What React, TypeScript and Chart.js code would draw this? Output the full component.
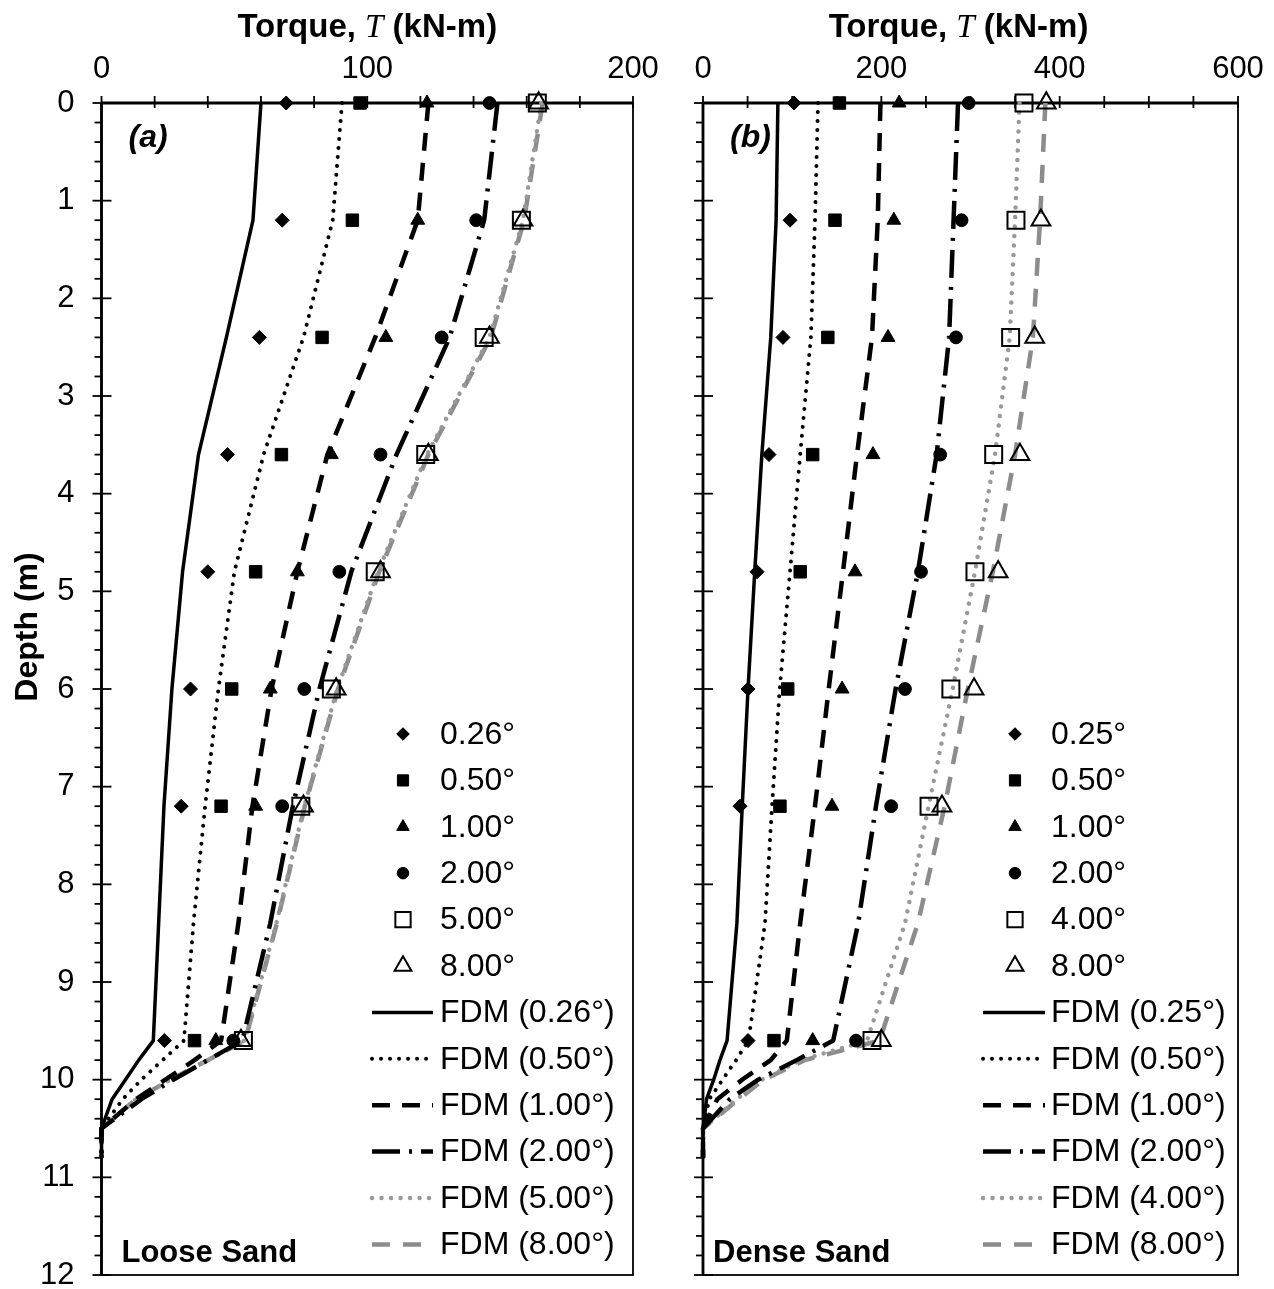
import React, { useEffect, useRef } from 'react';
import { Chart, registerables } from 'chart.js';
import { drawPoint } from 'chart.js/helpers';

Chart.register(...registerables);

const SANS = '"Liberation Sans", Arial, Helvetica, sans-serif';
const SERIF = '"Liberation Serif", "Times New Roman", Times, serif';

// ---------------- data ----------------
const markerDepths = [0, 1.2, 2.4, 3.6, 4.8, 6.0, 7.2, 9.6];
const fdmDepths = [0, 1.2, 2.4, 3.6, 4.8, 6.0, 7.2, 8.4, 9.6, 9.8, 10.0, 10.2, 10.5, 10.8];
const depthTicks = [0, 1, 2, 3, 4, 5, 6, 7, 8, 9, 10, 11, 12];

// (a) Loose sand
const looseAngles = ['0.26°', '0.50°', '1.00°', '2.00°', '5.00°', '8.00°'];
const looseTorqueTicks = [0, 100, 200];
const loose026 = [69.5, 68, 59.4, 47.4, 40, 33.5, 30, 23.7];
const loose050 = [97.3, 94.4, 83, 67.7, 58, 49, 45, 35];
const loose100 = [122.5, 119, 107, 86.5, 73.7, 63.5, 58, 43];
const loose200 = [146, 141, 128, 105, 89.5, 76.3, 68, 49.6];
const loose500 = [164, 158, 144, 122, 103, 86.5, 75, 53.4];
const loose800 = [164.5, 158.6, 146, 123, 105, 88.3, 76, 52.5];
const looseFdm026 = [60, 57, 47, 36.5, 30.5, 26.5, 23.5, 21.5, 19.5, 14, 9, 4, 0, 0];
const looseFdm050 = [90.5, 87, 76, 61, 50, 44, 39, 34.6, 31, 23, 15, 8, 0, 0];
const looseFdm100 = [123, 119, 103, 85, 73.7, 64, 56.8, 51.5, 45, 35, 24, 13, 0, 0];
const looseFdm200 = [149, 144, 131, 111, 94, 82, 72, 63.5, 53, 40, 27, 15, 0, 0];
const looseFdm500 = [165.5, 158.6, 146, 122.5, 104, 88.7, 76.3, 65.8, 53.8, 40, 26, 13, 0, 0];
const looseFdm800 = [166, 159, 146.5, 123, 104.5, 89, 76.5, 66, 54, 40, 26, 13, 0, 0];

// (b) Dense sand
const denseAngles = ['0.25°', '0.50°', '1.00°', '2.00°', '4.00°', '8.00°'];
const denseTorqueTicks = [0, 200, 400, 600];
const dense025 = [102, 97.6, 89.7, 74, 60.6, 50.5, 41.5, 50.5];
const dense050 = [153, 148, 140, 123, 109, 95, 86.3, 79.6];
const dense100 = [220, 214, 207.5, 190.6, 170.5, 156, 144.7, 123];
const dense200 = [298, 290, 283.7, 266, 244.5, 226.5, 211, 171.6];
const dense400 = [360, 351, 345, 326, 305, 278, 253.5, 189.5];
const dense800 = [385, 379, 372, 355.5, 331, 304, 268, 200];
const denseFdm025 = [84, 82, 76, 66, 58, 50.5, 44, 38, 27, 19, 12, 4, 0, 0];
const denseFdm050 = [129, 125.6, 121, 109, 97.6, 86, 77.4, 69.5, 51, 37, 22, 7, 0, 0];
const denseFdm100 = [199, 196, 189.5, 172.7, 157, 141, 125.6, 109, 94, 76, 44, 16, 0, 0];
const denseFdm200 = [286, 281, 276, 262, 241, 216, 194, 174, 146, 105, 62, 30, 0, 0];
const denseFdm400 = [355, 350, 344, 327.5, 305, 280, 253, 226.5, 184, 110, 66, 38, 0, 0];
const denseFdm800 = [384, 378, 370, 350, 325, 297, 271, 241, 198, 114, 68, 40, 0, 0];

// ---------------- styles ----------------
const MARKERS = [
  { style: 'rectRot', r: 7, fill: '#000', bw: 1 },
  { style: 'rect', r: 8.8, fill: '#000', bw: 1 },
  { style: 'triangle', r: 8, fill: '#000', bw: 1 },
  { style: 'circle', r: 6.4, fill: '#000', bw: 1 },
  { style: 'rect', r: 12, fill: 'rgba(0,0,0,0)', bw: 2 },
  { style: 'triangle', r: 10.8, fill: 'rgba(0,0,0,0)', bw: 2 },
];
const LINES = [
  { color: '#000', w: 3.5, dash: [] as number[], cap: 'butt' },
  { color: '#000', w: 4, dash: [0.01, 9], cap: 'round' },
  { color: '#000', w: 4.5, dash: [18, 12], cap: 'butt' },
  { color: '#000', w: 4.5, dash: [28, 9, 3, 9], cap: 'butt' },
  { color: '#999999', w: 4.5, dash: [0.01, 9.5], cap: 'round' },
  { color: '#8c8c8c', w: 4.5, dash: [18, 13], cap: 'butt' },
];

const H = 1289;

function buildDatasets(markers: number[][], fdm: number[][], labels: string[]) {
  const ds: any[] = [];
  markers.forEach((vals, i) => {
    const st = MARKERS[i];
    ds.push({
      label: labels[i],
      data: vals.map((v, k) => ({ x: v, y: markerDepths[k] })),
      showLine: false,
      pointStyle: st.style,
      pointRadius: st.r,
      pointHoverRadius: st.r,
      pointBackgroundColor: st.fill,
      pointBorderColor: '#000',
      pointBorderWidth: st.bw,
      backgroundColor: st.fill,
      borderColor: '#000',
      clip: false,
    });
  });
  fdm.forEach((vals, i) => {
    const st = LINES[i];
    ds.push({
      label: 'FDM (' + labels[i] + ')',
      data: vals.map((v, k) => ({ x: v, y: fdmDepths[k] })),
      showLine: true,
      pointRadius: 0,
      pointHoverRadius: 0,
      borderColor: st.color,
      backgroundColor: st.color,
      borderWidth: st.w,
      borderDash: st.dash,
      borderCapStyle: st.cap,
      borderJoinStyle: 'round',
      fill: false,
      tension: 0,
      clip: false,
    });
  });
  return ds;
}

function seg(ctx: CanvasRenderingContext2D, x1: number, y1: number, x2: number, y2: number) {
  ctx.beginPath();
  ctx.moveTo(x1, y1);
  ctx.lineTo(x2, y2);
  ctx.stroke();
}

const decorPlugin = {
  id: 'decor',
  beforeDatasetsDraw(chart: any, _a: any, o: any) {
    const { ctx, chartArea: ca } = chart;
    const x = chart.scales.x;
    const y = chart.scales.y;
    ctx.save();
    ctx.strokeStyle = '#000';
    ctx.setLineDash([]);
    ctx.lineCap = 'butt';
    ctx.lineWidth = 1.8;
    ctx.strokeRect(ca.left, ca.top, ca.right - ca.left, ca.bottom - ca.top);
    ctx.lineWidth = 2.8;
    seg(ctx, ca.left, ca.top, ca.right, ca.top);
    seg(ctx, ca.left, ca.top, ca.left, ca.bottom);
    ctx.lineWidth = 1.8;
    const nx = Math.round((x.max - x.min) / o.xMinor);
    for (let i = 0; i <= nx; i++) {
      const px = x.getPixelForValue(x.min + i * o.xMinor);
      seg(ctx, px, ca.top - 7, px, ca.top + 5);
    }
    const ny = Math.round((y.max - y.min) / o.yMinor);
    for (let i = 0; i <= ny; i++) {
      const d = y.min + i * o.yMinor;
      const py = y.getPixelForValue(d);
      if (Math.abs(d - Math.round(d)) < 1e-6) seg(ctx, ca.left - 9, py, ca.left + 10, py);
      else seg(ctx, ca.left - 7, py, ca.left, py);
    }
    ctx.restore();
  },
  afterDraw(chart: any, _a: any, o: any) {
    const { ctx, chartArea: ca } = chart;
    ctx.save();
    ctx.fillStyle = '#000';
    // x title with italic T
    const parts: [string, string][] = [
      ['Torque, ', `bold 33px ${SANS}`],
      ['T', `italic 33px ${SERIF}`],
      [' (kN-m)', `bold 33px ${SANS}`],
    ];
    let total = 0;
    const ws = parts.map(([t, f]) => {
      ctx.font = f;
      const w = ctx.measureText(t).width;
      total += w;
      return w;
    });
    let cx = (ca.left + ca.right) / 2 + o.titleShift - total / 2;
    ctx.textBaseline = 'alphabetic';
    ctx.textAlign = 'left';
    parts.forEach(([t, f], i) => {
      ctx.font = f;
      ctx.fillText(t, cx, 37);
      cx += ws[i];
    });
    // y title
    if (o.yTitle) {
      ctx.save();
      ctx.translate(28, 627);
      ctx.rotate(-Math.PI / 2);
      ctx.font = `bold 32px ${SANS}`;
      ctx.textAlign = 'center';
      ctx.textBaseline = 'middle';
      ctx.fillText(o.yTitle, 0, 0);
      ctx.restore();
    }
    // panel labels
    ctx.font = `italic bold 32px ${SANS}`;
    ctx.textAlign = 'left';
    ctx.textBaseline = 'middle';
    ctx.fillText(o.panelLabel, ca.left + 27, 138);
    ctx.font = `bold 31px ${SANS}`;
    ctx.textBaseline = 'alphabetic';
    ctx.fillText(o.sandLabel, ca.left + o.sandDx, 1262);

    // legend
    const dsList = chart.data.datasets;
    ctx.font = `32px ${SANS}`;
    ctx.textBaseline = 'middle';
    dsList.forEach((ds: any, i: number) => {
      const yy = o.legY0 + i * o.legStep;
      if (!ds.showLine) {
        ctx.save();
        ctx.fillStyle = ds.pointBackgroundColor;
        ctx.strokeStyle = ds.pointBorderColor;
        ctx.lineWidth = ds.pointBorderWidth;
        drawPoint(ctx, { pointStyle: ds.pointStyle, radius: ds.pointRadius * 0.9, rotation: 0, borderWidth: ds.pointBorderWidth }, o.legMarkerX, yy);
        ctx.restore();
      } else {
        ctx.save();
        ctx.strokeStyle = ds.borderColor;
        ctx.lineWidth = ds.borderWidth;
        ctx.lineCap = ds.borderCapStyle;
        ctx.setLineDash(ds.borderDash);
        seg(ctx, o.legLineX0, yy, o.legLineX1, yy);
        ctx.restore();
      }
      ctx.fillStyle = '#000';
      ctx.fillText(ds.label, o.legTextX, yy + 1);
    });
    ctx.restore();
  },
};

interface PanelProps {
  left: number;
  width: number;
  xMax: number;
  xTicks: number[];
  yAxisWidth: number;
  showYLabels: boolean;
  padRight: number;
  datasets: any[];
  decor: any;
}

function Panel(p: PanelProps) {
  const ref = useRef<HTMLCanvasElement>(null);
  useEffect(() => {
    const chart = new Chart(ref.current as HTMLCanvasElement, {
      type: 'scatter',
      data: { datasets: p.datasets },
      plugins: [decorPlugin as any],
      options: {
        animation: false,
        responsive: false,
        maintainAspectRatio: false,
        events: [],
        layout: { padding: { left: 0, top: 0, right: p.padRight, bottom: 12 } },
        plugins: {
          legend: { display: false },
          tooltip: { enabled: false },
          colors: { enabled: false },
          decor: p.decor,
        } as any,
        scales: {
          x: {
            type: 'linear',
            position: 'top',
            min: 0,
            max: p.xMax,
            afterBuildTicks: (s: any) => {
              s.ticks = p.xTicks.map((v) => ({ value: v }));
            },
            afterFit: (s: any) => {
              s.height = 103;
              s.paddingLeft = 0;
              s.paddingRight = 0;
            },
            ticks: {
              color: '#000',
              font: { family: SANS, size: 31 },
              padding: 15,
              maxRotation: 0,
              autoSkip: false,
            },
            grid: { display: false, drawTicks: false },
            border: { display: false },
          },
          y: {
            type: 'linear',
            reverse: true,
            min: 0,
            max: 12,
            afterBuildTicks: (s: any) => {
              s.ticks = depthTicks.map((v) => ({ value: v }));
            },
            afterFit: (s: any) => {
              s.width = p.yAxisWidth;
              s.paddingTop = 0;
              s.paddingBottom = 0;
            },
            ticks: {
              display: p.showYLabels,
              color: '#000',
              font: { family: SANS, size: 31 },
              padding: 27,
              autoSkip: false,
            },
            grid: { display: false, drawTicks: false },
            border: { display: false },
          },
        },
      } as any,
    });
    return () => chart.destroy();
  }, []);
  return (
    <canvas
      ref={ref}
      width={p.width}
      height={H}
      style={{ position: 'absolute', left: p.left, top: 0, width: p.width, height: H }}
    />
  );
}

export default function App() {
  const looseDs = buildDatasets(
    [loose026, loose050, loose100, loose200, loose500, loose800],
    [looseFdm026, looseFdm050, looseFdm100, looseFdm200, looseFdm500, looseFdm800],
    looseAngles
  );
  const denseDs = buildDatasets(
    [dense025, dense050, dense100, dense200, dense400, dense800],
    [denseFdm025, denseFdm050, denseFdm100, denseFdm200, denseFdm400, denseFdm800],
    denseAngles
  );
  return (
    <div style={{ position: 'absolute', left: 0, top: 0, width: 1274, height: H, background: '#fff', overflow: 'hidden' }}>
      <Panel
        left={0}
        width={670}
        xMax={200}
        xTicks={looseTorqueTicks}
        yAxisWidth={101.5}
        showYLabels={true}
        padRight={37}
        datasets={looseDs}
        decor={{
          xMinor: 20,
          yMinor: 0.2,
          titleShift: 0,
          yTitle: 'Depth (m)',
          panelLabel: '(a)',
          sandLabel: 'Loose Sand',
          sandDx: 20,
          legY0: 734,
          legStep: 46.4,
          legMarkerX: 403,
          legTextX: 440,
          legLineX0: 372,
          legLineX1: 433,
        }}
      />
      <Panel
        left={660}
        width={614}
        xMax={600}
        xTicks={denseTorqueTicks}
        yAxisWidth={43}
        showYLabels={false}
        padRight={36}
        datasets={denseDs}
        decor={{
          xMinor: 50,
          yMinor: 0.2,
          titleShift: -12,
          yTitle: '',
          panelLabel: '(b)',
          sandLabel: 'Dense Sand',
          sandDx: 10,
          legY0: 734,
          legStep: 46.4,
          legMarkerX: 355,
          legTextX: 391,
          legLineX0: 323,
          legLineX1: 385,
        }}
      />
    </div>
  );
}
